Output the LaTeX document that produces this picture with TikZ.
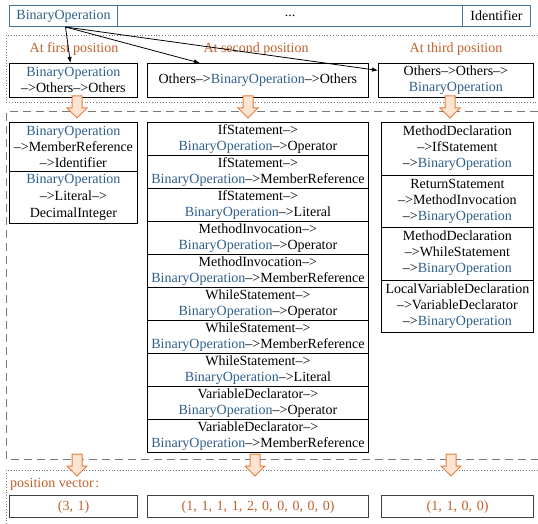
\documentclass[tikz,border=0pt]{standalone}
\usepackage{fontspec}
\setmainfont{Liberation Serif}
\usetikzlibrary{arrows.meta}
\definecolor{bopc}{RGB}{46,95,140}
\definecolor{labc}{RGB}{192,96,40}
\definecolor{barblue}{RGB}{70,115,160}
\definecolor{arrline}{RGB}{232,125,58}
\definecolor{arrfill}{RGB}{252,228,210}
\definecolor{framegray}{RGB}{120,120,120}
\newcommand\bop{\textcolor{bopc}{BinaryOperation}}
\newcommand\myarr{–>}
\newcommand\blockarr[3]{%
  \draw[barr] ({#1-5},#2) -- ({#1+5},#2) -- ({#1+5},{#3-10}) -- ({#1+10},{#3-10}) -- (#1,#3) -- ({#1-10},{#3-10}) -- ({#1-5},{#3-10}) -- cycle;}
\begin{document}
\begin{tikzpicture}[x=1pt,y=-1pt,
  font=\fontsize{14}{16}\selectfont,
  box/.style={draw=black, line width=0.8pt, anchor=north west, inner sep=0pt, align=center},
  cell/.style={draw=barblue, line width=1pt, anchor=north west, inner sep=0pt, align=center, minimum height=21pt},
  vbox/.style={draw=black!75, line width=1.3pt, anchor=north west, inner sep=0pt, align=center, minimum height=22pt, text=labc},
  lab/.style={text=labc, inner sep=0pt},
  dotbox/.style={draw=framegray, line width=0.8pt, dotted},
  dashbox/.style={draw=framegray, line width=1pt, dash pattern=on 8pt off 5pt},
  barr/.style={draw=arrline, fill=arrfill, line width=1pt, line join=miter},
  thin/.style={draw=black, line width=0.8pt, -{Latex[length=6pt,width=4.5pt]}}]
\useasboundingbox (0,0) rectangle (538,524);
% frames
\draw[dotbox] (538,35) -- (6,35) -- (6,102) -- (538,102);
\draw[dashbox] (538,112) -- (6,112) -- (6,459) -- (538,459);
\draw[dotbox] (538,470) -- (6,470) -- (6,524);
% top bar
\node[cell, text width=108pt] (bopcell) at (9,5) {\bop};
\node[cell, text width=345pt] (dots) at (117,5) {...};
\node[cell, text width=68pt] (ident) at (462,5) {Identifier};
% position labels
\node[lab] (l1) at (74,49) {At first position};
\node[lab] (l2) at (256,49) {At second position};
\node[lab] (l3) at (456,49) {At third position};
% row 1 boxes
\node[box, text width=128pt, minimum height=34pt] (r1a) at (9,63) {\bop\\\myarr Others\myarr Others};
\node[box, text width=221pt, minimum height=34pt] (r1b) at (147,63) {Others\myarr\bop\myarr Others};
\node[box, text width=155pt, minimum height=34pt] (r1c) at (378,63) {Others\myarr Others\myarr\\\bop};
% thin arrows
\draw[thin] ([xshift=2pt]bopcell.south) -- ([xshift=-3pt]r1a.north);
\draw[thin] ([xshift=2pt]bopcell.south) -- ([xshift=-58pt]r1b.north);
\draw[thin] ([xshift=2pt]bopcell.south) -- ([yshift=10pt]r1c.west);
% block arrows top
\blockarr{77}{96}{118}
\blockarr{248}{96}{118}
\blockarr{450}{96}{118}
% column 1
\node[box, text width=128pt, minimum height=49pt] (c1a) at (9,122) {\bop\\\myarr MemberReference\\\myarr Identifier};
\node[box, text width=128pt, minimum height=52pt, font=\fontsize{14}{17}\selectfont] (c1b) at (9,171) {\bop\\\myarr Literal\myarr\\DecimalInteger};
% column 2
\foreach \i/\a/\b in {0/IfStatement/Operator,1/IfStatement/MemberReference,2/IfStatement/Literal,3/MethodInvocation/Operator,4/MethodInvocation/MemberReference,5/WhileStatement/Operator,6/WhileStatement/MemberReference,7/WhileStatement/Literal,8/VariableDeclarator/Operator,9/VariableDeclarator/MemberReference}{
  \node[box, text width=221pt, minimum height=33pt] (c2r\i) at (147,{122+33*\i}) {\a\myarr\\\bop\myarr\b};
}
% column 3
\node[box, text width=152pt, minimum height=52.5pt] (c3a) at (381,122) {MethodDeclaration\\\myarr IfStatement\\\myarr\bop};
\node[box, text width=152pt, minimum height=52.5pt] (c3b) at (381,174.5) {ReturnStatement\\\myarr MethodInvocation\\\myarr\bop};
\node[box, text width=152pt, minimum height=52.5pt] (c3c) at (381,227) {MethodDeclaration\\\myarr WhileStatement\\\myarr\bop};
\node[box, text width=152pt, minimum height=52.5pt] (c3d) at (381,279.5) {LocalVariableDeclaration\\\myarr VariableDeclarator\\\myarr\bop};
% block arrows bottom
\blockarr{77}{454}{476}
\blockarr{255}{454}{476}
\blockarr{451}{454}{476}
% position vector
\node[lab, anchor=west] (pv) at (10,484) {position vector\kern1.5pt:};
\node[vbox, text width=128pt] (v1) at (9,495) {(3, 1)};
\node[vbox, text width=221pt] (v2) at (147,495) {(1, 1, 1, 1, 2, 0, 0, 0, 0, 0)};
\node[vbox, text width=152pt] (v3) at (381,495) {(1, 1, 0, 0)};
\end{tikzpicture}
\end{document}
